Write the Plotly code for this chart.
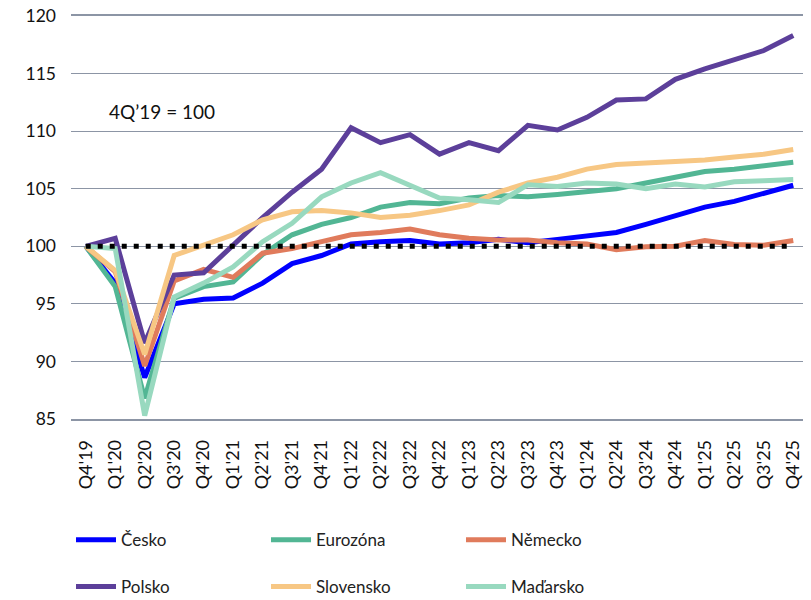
import plotly.graph_objects as go

categories = ["Q4'19", "Q1'20", "Q2'20", "Q3'20", "Q4'20", "Q1'21", "Q2'21", "Q3'21",
              "Q4'21", "Q1'22", "Q2'22", "Q3'22", "Q4'22", "Q1'23", "Q2'23", "Q3'23",
              "Q4'23", "Q1'24", "Q2'24", "Q3'24", "Q4'24", "Q1'25", "Q2'25", "Q3'25", "Q4'25"]

cesko = [100, 96.8, 88.6, 95.0, 95.4, 95.5, 96.8, 98.5, 99.2, 100.2, 100.4, 100.5, 100.2,
         100.3, 100.6, 100.3, 100.6, 100.9, 101.2, 101.9, 102.7, 103.4, 103.9, 104.6, 105.3]
eurozona = [100, 96.5, 86.8, 95.5, 96.5, 96.9, 99.3, 101.0, 101.9, 102.5, 103.4, 103.8, 103.7,
            104.2, 104.4, 104.3, 104.5, 104.8, 105.0, 105.5, 106.0, 106.5, 106.7, 107.0, 107.3]
nemecko = [100, 97.8, 89.6, 97.0, 98.0, 97.3, 99.4, 99.8, 100.4, 101.0, 101.2, 101.5, 101.0,
           100.7, 100.55, 100.55, 100.3, 100.2, 99.7, 99.95, 100.0, 100.5, 100.15, 100.1, 100.5]
polsko = [100, 100.7, 91.6, 97.5, 97.7, 100.1, 102.5, 104.7, 106.7, 110.3, 109.0, 109.7, 108.0,
          109.0, 108.3, 110.5, 110.1, 111.2, 112.7, 112.8, 114.5, 115.4, 116.2, 117.0, 118.3]
slovensko = [100, 97.9, 90.6, 99.2, 100.1, 101.0, 102.3, 103.0, 103.1, 102.9, 102.5, 102.7, 103.1,
             103.6, 104.7, 105.5, 106.0, 106.7, 107.1, 107.2, 107.35, 107.5, 107.75, 108.0, 108.4]
madarsko = [100, 99.8, 85.3, 95.6, 96.8, 98.2, 100.4, 102.0, 104.3, 105.5, 106.4, 105.3, 104.2,
            104.05, 103.8, 105.35, 105.2, 105.5, 105.4, 105.0, 105.4, 105.15, 105.6, 105.7, 105.8]
baseline = [100] * len(categories)

series_names = ["Česko", "Eurozóna", "Německo", "Polsko", "Slovensko", "Maďarsko"]
series_values = [cesko, eurozona, nemecko, polsko, slovensko, madarsko]
colors = ["#0000FF", "#52B694", "#E07B5C", "#5C3F9A", "#F7C784", "#98D9BF"]

y_ticks = [85, 90, 95, 100, 105, 110, 115, 120]

FONT = "Lato, Carlito, 'Liberation Sans', sans-serif"
GRID = "#8C95A5"

fig = go.Figure()
for i in range(6):
    fig.add_trace(go.Scatter(
        x=categories, y=series_values[i], name=series_names[i], mode="lines",
        line=dict(color=colors[i], width=5),
        legend="legend" if i < 3 else "legend2",
    ))

fig.add_trace(go.Scatter(
    x=categories, y=baseline, mode="lines", showlegend=False,
    line=dict(color="black", width=5, dash="5px,7px"),
))

fig.add_annotation(
    text="4Q’19 = 100", xref="paper", yref="paper", x=0.049, y=0.762,
    xanchor="left", yanchor="middle", showarrow=False,
    font=dict(family=FONT, size=19, color="#111111"),
)

legend_common = dict(
    orientation="h", x=0.0, xanchor="left", yanchor="top",
    entrywidth=140, entrywidthmode="pixels",
    font=dict(family=FONT, size=17, color="#222222"),
    traceorder="normal", itemwidth=40, bgcolor="rgba(0,0,0,0)",
)

# page body adds an 8px margin: compensate so the chart lands where the reference is
fig.update_layout(
    width=803, height=600,
    margin=dict(l=63, r=3, t=8, b=189),
    paper_bgcolor="white", plot_bgcolor="white",
    font=dict(family=FONT, size=17, color="#111111"),
    showlegend=True,
    legend=dict(legend_common, y=-0.256),
    legend2=dict(legend_common, y=-0.372),
    xaxis=dict(
        type="category", tickangle=-90, showgrid=False, automargin=False,
        showline=True, linecolor=GRID, linewidth=1.5, mirror=True,
        ticks="", ticklabelstandoff=12,
        tickfont=dict(family=FONT, size=18, color="#111111"),
        range=[-0.5, len(categories) - 0.5],
    ),
    yaxis=dict(
        range=[85, 120], tickvals=y_ticks, showgrid=True, gridcolor=GRID, gridwidth=1.3,
        zeroline=False, showline=False, ticks="", ticklabelstandoff=14,
        ticklabeloverflow="allow", automargin=False,
        tickfont=dict(family=FONT, size=17.5, color="#111111"),
    ),
)

fig.write_html("out.html")
